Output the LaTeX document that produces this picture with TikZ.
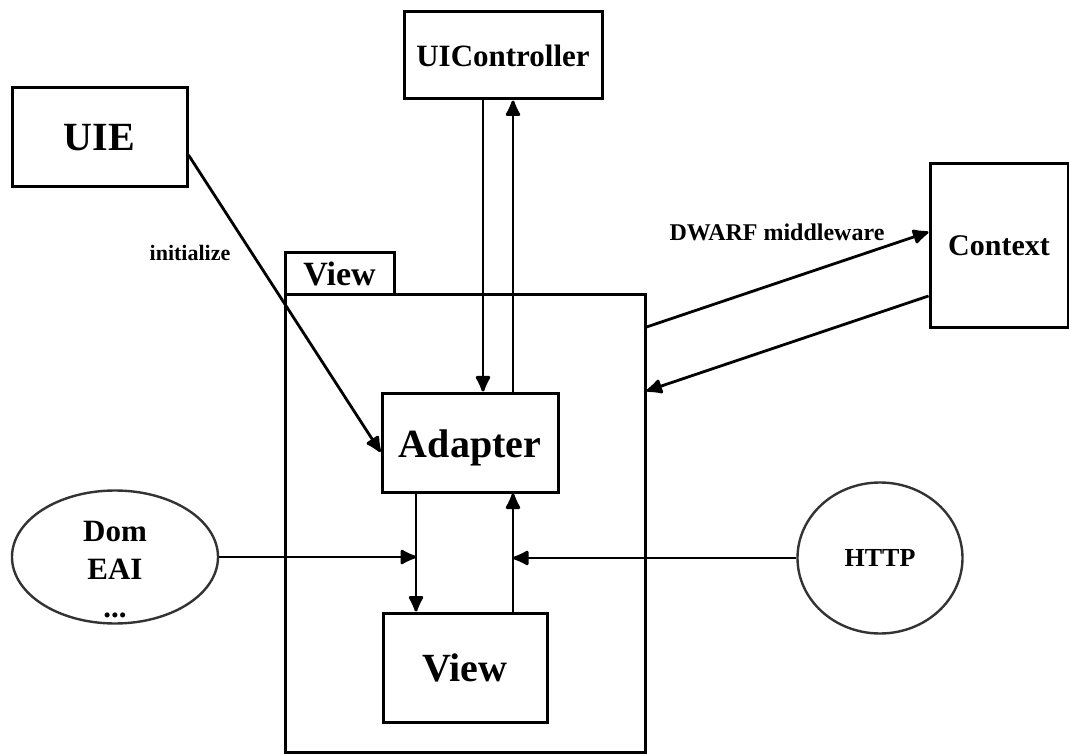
\documentclass[tikz,border=0pt]{standalone}
\usepackage{fontspec}
\setmainfont{Liberation Serif}
\usetikzlibrary{arrows.meta,shapes.geometric}

\tikzset{
  box/.style={draw=black, line width=3pt, rectangle, inner sep=0pt,
              font=\bfseries, text=black},
  oval/.style={draw=black!80, line width=2.4pt, ellipse, inner sep=0pt},
  link/.style={draw=black, line width=2.8pt},
  arr/.style={link, -{Latex[length=19pt,width=17pt,round]}},
  tag/.style={font=\bfseries, inner sep=0pt}
}

\begin{document}
\begin{tikzpicture}[x=1pt, y=-1pt]
  \useasboundingbox (0,0) rectangle (1069,754);

  % outer View frame and its tab
  \node[box, minimum width=360pt, minimum height=457pt] (frame) at (465,523.5) {};
  \node[box, minimum width=109pt, minimum height=42pt, font=\bfseries\fontsize{34}{34}\selectfont] (tab) at (339.5,274) {View};

  % boxes
  \node[box, minimum width=198pt, minimum height=87pt, font=\bfseries\fontsize{31}{31}\selectfont] (uic) at (503,55.5) {UIController};
  \node[box, minimum width=175pt, minimum height=99pt, font=\bfseries\fontsize{40}{40}\selectfont] (uie) at (99.5,137.5) {UIE};
  \node[box, minimum width=138pt, minimum height=163pt, font=\bfseries\fontsize{30}{30}\selectfont] (ctx) at (999,245.5) {Context};
  \node[box, minimum width=176pt, minimum height=99pt, font=\bfseries\fontsize{40}{40}\selectfont] (adapter) at (470,442.5) {\raisebox{-15pt}[0pt][0pt]{Adapter}};
  \node[box, minimum width=164pt, minimum height=109pt, font=\bfseries\fontsize{40}{40}\selectfont] (view) at (465,667.5) {View};

  % ovals
  \node[oval, minimum width=206pt, minimum height=133pt] (dom) at (115,557) {};
  \node[tag, align=center, font=\bfseries\fontsize{31}{38}\selectfont] (domtext) at ([yshift=-13pt]dom.center) {Dom\\EAI\\...};
  \node[oval, minimum width=165pt, minimum height=151pt, font=\bfseries\fontsize{26}{26}\selectfont] (http) at (880,558) {HTTP};

  % vertical tracks between boxes
  \coordinate (ta) at (483,0);
  \coordinate (tb) at (513,0);
  \coordinate (tc) at (416,0);

  % UIController <-> Adapter
  \draw[arr] (uic.south -| ta) -- (adapter.north -| ta);
  \draw[arr] (adapter.north -| tb) -- (uic.south -| tb);

  % Adapter <-> View
  \draw[arr] (adapter.south -| tc) -- (view.north -| tc);
  \draw[arr] (view.north -| tb) -- (adapter.south -| tb);

  % inputs from the sides
  \draw[arr] (dom.east) -- (dom.east -| tc);
  \draw[arr] (http.west) -- (http.west -| tb);

  % UIE initializes the Adapter
  \draw[arr] (uie.east |- 0,155) -- (adapter.west |- 0,452);
  \node[tag, font=\bfseries\fontsize{22}{22}\selectfont] (initlabel) at (190,253) {initialize};

  % frame <-> Context
  \draw[arr] (frame.east |- 0,327) -- (ctx.west |- 0,232);
  \draw[arr] (ctx.west |- 0,296) -- (frame.east |- 0,391);
  \node[tag, font=\bfseries\fontsize{24}{24}\selectfont] (dwarflabel) at (777,232) {DWARF middleware};
\end{tikzpicture}
\end{document}
